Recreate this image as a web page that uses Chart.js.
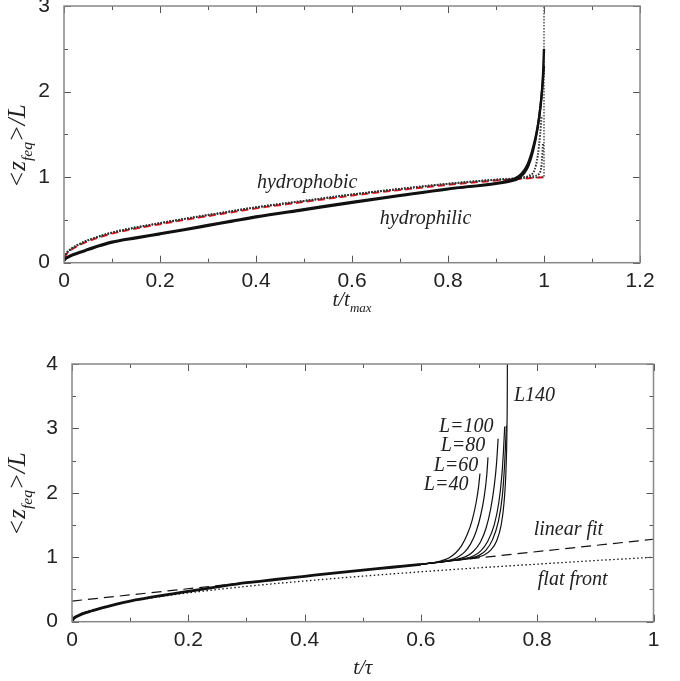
<!DOCTYPE html>
<html>
<head>
<meta charset="utf-8">
<script src="https://cdn.jsdelivr.net/npm/chart.js@4/dist/chart.umd.min.js"></script>
<style>
  body { margin: 0; background: #fff; width: 680px; height: 681px; overflow: hidden; position: relative; }
  canvas { position: absolute; left: 0; }
  #chartTop { top: 0; }
  #chartBottom { top: 330px; }
</style>
</head>
<body>
<canvas id="chartTop" width="680" height="320"></canvas>
<canvas id="chartBottom" width="680" height="351"></canvas>
<script>
// ---- top panel: <z_feq>/L vs t/t_max ----
const topXTicks = [0, 0.2, 0.4, 0.6, 0.8, 1, 1.2];
const topYTicks = [0, 1, 2, 3];

const hydrophilicA = [[0,0.03],[0.005,0.06],[0.01,0.075],[0.02,0.1],[0.035,0.13],[0.05,0.158],[0.075,0.205],[0.1,0.245],[0.15,0.295],[0.2,0.342],[0.25,0.39],[0.3,0.44],[0.35,0.49],[0.4,0.54],[0.5,0.625],[0.6,0.71],[0.7,0.79],[0.8,0.865],[0.9,0.93],[0.92,0.95],[0.94,0.985],[0.953,1.04],[0.965,1.14],[0.975,1.3],[0.983,1.48],[0.99,1.7],[0.995,1.95],[0.998,2.2],[1.0,2.5]];
const hydrophilicB = [[0,0.02],[0.005,0.05],[0.01,0.065],[0.02,0.09],[0.035,0.12],[0.05,0.148],[0.075,0.195],[0.1,0.235],[0.15,0.285],[0.2,0.332],[0.25,0.38],[0.3,0.43],[0.35,0.48],[0.4,0.53],[0.5,0.615],[0.6,0.7],[0.7,0.78],[0.8,0.857],[0.9,0.922],[0.93,0.95],[0.95,0.995],[0.965,1.1],[0.977,1.3],[0.986,1.55],[0.993,1.85],[0.998,2.15],[1.0,2.3]];

const hydrophobicDotsBase = [[0,0.06],[0.005,0.11],[0.01,0.14],[0.02,0.18],[0.035,0.225],[0.05,0.262],[0.075,0.31],[0.1,0.352],[0.15,0.412],[0.2,0.462],[0.25,0.512],[0.3,0.557],[0.35,0.602],[0.4,0.647],[0.5,0.722],[0.6,0.797],[0.7,0.862],[0.8,0.922],[0.9,0.97]];
const hydrophobicTailA = [[0.95,0.99],[0.97,1.02],[0.98,1.08],[0.987,1.25],[0.992,1.5],[0.995,1.72]];
const hydrophobicTailB = [[0.95,0.99],[0.975,1.01],[0.99,1.04],[0.995,1.15],[0.998,1.4]];
const hydrophobicTailC = [[0.95,0.988],[0.99,1.0],[1.0,1.0],[1.0,3.0]];

const hydrophobicTheory = [[0,0.05],[0.005,0.1],[0.01,0.13],[0.02,0.17],[0.035,0.215],[0.05,0.25],[0.075,0.3],[0.1,0.34],[0.15,0.4],[0.2,0.45],[0.25,0.5],[0.3,0.545],[0.35,0.59],[0.4,0.635],[0.5,0.71],[0.6,0.785],[0.7,0.85],[0.8,0.91],[0.9,0.96],[1.0,1.0]];

// ---- bottom panel: <z_feq>/L vs t/tau ----
const bottomXTicks = [0, 0.2, 0.4, 0.6, 0.8, 1];
const bottomYTicks = [0, 1, 2, 3, 4];

const sizeBase = [[0,0],[0.003,0.05],[0.01,0.09],[0.02,0.13],[0.035,0.17],[0.05,0.21],[0.075,0.27],[0.1,0.32],[0.15,0.40],[0.2,0.47],[0.25,0.54],[0.3,0.605],[0.35,0.655],[0.4,0.705],[0.45,0.755],[0.5,0.80],[0.55,0.845],[0.6,0.89]];
const tailL40  = [[0.6,0.89],[0.62,0.915],[0.635,0.945],[0.648,0.99],[0.66,1.07],[0.67,1.18],[0.68,1.36],[0.688,1.57],[0.695,1.85],[0.699,2.08],[0.7016,2.30]];
const tailL60  = [[0.6,0.89],[0.63,0.925],[0.65,0.955],[0.663,1.0],[0.675,1.08],[0.685,1.2],[0.695,1.4],[0.703,1.66],[0.709,1.95],[0.713,2.25],[0.7154,2.55]];
const tailL80  = [[0.6,0.89],[0.64,0.935],[0.66,0.965],[0.677,1.01],[0.69,1.09],[0.702,1.23],[0.712,1.45],[0.72,1.75],[0.726,2.1],[0.73,2.45],[0.7328,2.84]];
const tailL100 = [[0.6,0.89],[0.65,0.945],[0.675,0.98],[0.69,1.02],[0.703,1.1],[0.715,1.25],[0.726,1.5],[0.734,1.85],[0.739,2.25],[0.742,2.65],[0.7441,3.03]];
const tailL120 = [[0.6,0.89],[0.66,0.955],[0.685,0.99],[0.7,1.03],[0.712,1.11],[0.723,1.27],[0.733,1.55],[0.74,1.95],[0.744,2.45],[0.747,3.04]];
const tailL140 = [[0.6,0.89],[0.67,0.965],[0.695,0.995],[0.708,1.03],[0.72,1.11],[0.73,1.25],[0.738,1.5],[0.743,1.85],[0.7465,2.4],[0.748,3.0],[0.7486,3.6],[0.7488,4.3]];
const linearFit = [[0,0.32],[1,1.28]];
const flatFront = [[0,0],[0.01,0.1],[0.02,0.14],[0.05,0.22],[0.1,0.316],[0.15,0.387],[0.2,0.447],[0.3,0.548],[0.4,0.632],[0.5,0.707],[0.6,0.775],[0.7,0.837],[0.8,0.894],[0.9,0.949],[1,1]];

Chart.defaults.font.family = '"Liberation Sans", Arial, sans-serif';
Chart.defaults.font.size = 21;
Chart.defaults.color = '#222';

const serif = '"Liberation Serif", "Times New Roman", serif';

function toPoints(pairs) {
  return pairs.map(p => ({ x: p[0], y: p[1] }));
}

function line(pairs, opts) {
  return Object.assign({
    data: toPoints(pairs),
    borderColor: '#111',
    borderWidth: 1.2,
    pointRadius: 0,
    fill: false,
    cubicInterpolationMode: 'monotone'
  }, opts);
}

// draw text made of normal and subscript parts, centred on 0
function drawParts(ctx, parts, size) {
  let w = 0;
  parts.forEach(p => {
    ctx.font = 'italic ' + (p.sub ? size * 0.62 : size) + 'px ' + serif;
    p.w = ctx.measureText(p.t).width;
    w += p.w;
  });
  let x = -w / 2;
  ctx.textAlign = 'left';
  ctx.textBaseline = 'alphabetic';
  parts.forEach(p => {
    ctx.font = 'italic ' + (p.sub ? size * 0.62 : size) + 'px ' + serif;
    ctx.fillText(p.t, x, p.sub ? size * 0.28 : 0);
    x += p.w;
  });
}

// gnuplot look: grey frame, inward ticks on all sides, italic notes, axis titles
const gnuplotFrame = {
  id: 'gnuplotFrame',
  afterDatasetsDraw(chart, args, opts) {
    const ctx = chart.ctx;
    const a = chart.chartArea;
    const x = chart.scales.x, y = chart.scales.y;
    ctx.save();
    ctx.strokeStyle = '#555';
    ctx.lineWidth = 1;
    const isMajor = (v, step) => Math.abs(v / step - Math.round(v / step)) < 1e-6;
    for (let i = 0; x.min + i * opts.minorX <= x.max + 1e-9; i++) {
      const v = x.min + i * opts.minorX;
      const len = isMajor(v, opts.majorX) ? 7 : 4;
      const px = Math.round(x.getPixelForValue(v)) + 0.5;
      ctx.beginPath();
      ctx.moveTo(px, a.bottom); ctx.lineTo(px, a.bottom - len);
      ctx.moveTo(px, a.top); ctx.lineTo(px, a.top + len);
      ctx.stroke();
    }
    for (let i = 0; y.min + i * opts.minorY <= y.max + 1e-9; i++) {
      const v = y.min + i * opts.minorY;
      const len = isMajor(v, opts.majorY) ? 7 : 4;
      const py = Math.round(y.getPixelForValue(v)) + 0.5;
      ctx.beginPath();
      ctx.moveTo(a.left, py); ctx.lineTo(a.left + len, py);
      ctx.moveTo(a.right, py); ctx.lineTo(a.right - len, py);
      ctx.stroke();
    }
    ctx.strokeStyle = '#888';
    ctx.lineWidth = 1.5;
    ctx.strokeRect(a.left, a.top, a.right - a.left, a.bottom - a.top);

    ctx.fillStyle = '#222';
    ctx.font = 'italic 20px ' + serif;
    ctx.textBaseline = 'middle';
    ctx.textAlign = 'left';
    opts.notes.forEach(n => {
      ctx.fillText(n.text, x.getPixelForValue(n.x), y.getPixelForValue(n.y));
    });

    ctx.save();
    ctx.translate((a.left + a.right) / 2, a.bottom + opts.xTitleOffset);
    drawParts(ctx, opts.xTitle, 21);
    ctx.restore();

    ctx.save();
    ctx.translate(opts.yTitleX, opts.yTitleY);
    ctx.rotate(-Math.PI / 2);
    drawParts(ctx, opts.yTitle, 25);
    ctx.restore();
    ctx.restore();
  }
};

function axes(xMax, yMax, xTicks, yTicks, yWidth, xHeight) {
  return {
    x: {
      type: 'linear', min: 0, max: xMax,
      afterBuildTicks: s => { s.ticks = xTicks.map(v => ({ value: v })); },
      afterFit: s => { s.height = xHeight; s.paddingLeft = 0; s.paddingRight = 0; },
      grid: { display: false, drawTicks: false },
      border: { display: false },
      ticks: { padding: 6, autoSkip: false, maxRotation: 0, callback: v => String(v) }
    },
    y: {
      type: 'linear', min: 0, max: yMax,
      afterBuildTicks: s => { s.ticks = yTicks.map(v => ({ value: v })); },
      afterFit: s => { s.width = yWidth; s.paddingTop = 0; s.paddingBottom = 0; },
      grid: { display: false, drawTicks: false },
      border: { display: false },
      ticks: { padding: 14, autoSkip: false, callback: v => String(v) }
    }
  };
}

const dotted = { borderDash: [1.5, 1.5], borderWidth: 2, borderColor: '#333' };

new Chart(document.getElementById('chartTop'), {
  type: 'line',
  data: {
    datasets: [
      line(hydrophilicA, { borderWidth: 2.4 }),
      line(hydrophilicB, { borderWidth: 2.2 }),
      line(hydrophobicDotsBase.concat(hydrophobicTailA), dotted),
      line(hydrophobicDotsBase.concat(hydrophobicTailB), dotted),
      line(hydrophobicDotsBase.concat(hydrophobicTailC), Object.assign({ cubicInterpolationMode: 'default', tension: 0 }, dotted, { borderWidth: 1.3 })),
      line(hydrophobicTheory, { borderColor: '#e8161e', borderWidth: 2, borderDash: [7, 4] })
    ]
  },
  options: {
    responsive: false,
    animation: false,
    parsing: false,
    layout: { padding: { top: 6, right: 40, left: 0, bottom: 0 } },
    scales: axes(1.2, 3, topXTicks, topYTicks, 64, 57.3),
    plugins: {
      legend: { display: false },
      tooltip: { enabled: false },
      gnuplotFrame: {
        minorX: 0.1, majorX: 0.2, minorY: 0.5, majorY: 1,
        notes: [
          { text: 'hydrophobic', x: 0.402, y: 0.93 },
          { text: 'hydrophilic', x: 0.658, y: 0.51 }
        ],
        xTitle: [{ t: 't/t' }, { t: 'max', sub: true }],
        xTitleOffset: 43,
        yTitle: [{ t: '<z' }, { t: 'feq', sub: true }, { t: '>/L' }],
        yTitleX: 25, yTitleY: 146
      }
    }
  },
  plugins: [gnuplotFrame]
});

new Chart(document.getElementById('chartBottom'), {
  type: 'line',
  data: {
    datasets: [
      line(linearFit, { borderDash: [10, 6], borderWidth: 1.2 }),
      line(flatFront, { borderDash: [1.5, 2.5], borderWidth: 1.3 }),
      line(sizeBase, { borderWidth: 2.8 }),
      line(tailL40),
      line(tailL60),
      line(tailL80),
      line(tailL100),
      line(tailL120),
      line(tailL140)
    ]
  },
  options: {
    responsive: false,
    animation: false,
    parsing: false,
    layout: { padding: { top: 34, right: 26.5, left: 0, bottom: 0 } },
    scales: axes(1, 4, bottomXTicks, bottomYTicks, 72, 59.3),
    plugins: {
      legend: { display: false },
      tooltip: { enabled: false },
      gnuplotFrame: {
        minorX: 0.1, majorX: 0.2, minorY: 0.5, majorY: 1,
        notes: [
          { text: 'L140', x: 0.760, y: 3.50 },
          { text: 'L=100', x: 0.631, y: 3.02 },
          { text: 'L=80', x: 0.634, y: 2.73 },
          { text: 'L=60', x: 0.622, y: 2.42 },
          { text: 'L=40', x: 0.605, y: 2.12 },
          { text: 'linear fit', x: 0.794, y: 1.42 },
          { text: 'flat front', x: 0.801, y: 0.65 }
        ],
        xTitle: [{ t: 't/τ' }],
        xTitleOffset: 52,
        yTitle: [{ t: '<z' }, { t: 'feq', sub: true }, { t: '>/L' }],
        yTitleX: 25, yTitleY: 164
      }
    }
  },
  plugins: [gnuplotFrame]
});
</script>
</body>
</html>
